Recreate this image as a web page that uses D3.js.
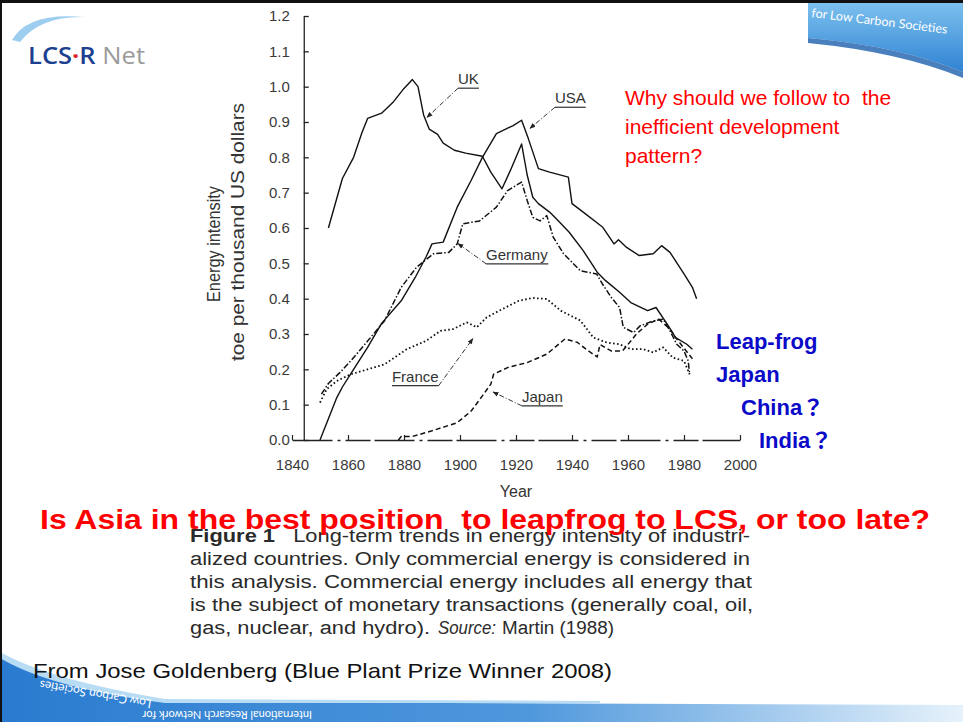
<!DOCTYPE html>
<html>
<head>
<meta charset="utf-8">
<script src="https://cdn.jsdelivr.net/npm/d3@7"></script>
<style>
  html, body { margin: 0; padding: 0; background: #fff; }
  svg { display: block; }
  .scan { font-family: "Liberation Sans", Arial, sans-serif; fill: #333; }
  text { white-space: pre; }
</style>
</head>
<body>
<div id="chart"></div>
<script>
// --- data (year, toe per thousand US$) ---
const ukData = [[1853,0.60],[1858,0.74],[1862,0.80],[1865,0.87],[1867,0.91],[1872,0.925],[1876,0.955],
  [1880,0.995],[1883,1.02],[1885,1.0],[1887,0.92],[1889,0.88],[1892,0.865],[1894,0.84],[1898,0.82],
  [1902,0.812],[1908,0.803],[1911,0.758],[1915,0.711],[1918,0.763],[1922,0.838],[1924,0.75],[1926,0.687],
  [1928,0.669],[1932,0.645],[1935,0.621],[1939,0.588],[1944,0.536],[1949,0.475],[1952,0.451],[1957,0.418],
  [1961,0.389],[1967,0.366],[1970,0.375],[1974,0.328],[1977,0.29],[1981,0.271],[1983,0.257]];

const usaData = [[1850,0.0],[1853,0.06],[1856,0.12],[1858,0.15],[1862,0.20],[1867,0.262],[1872,0.33],
  [1879,0.394],[1884,0.46],[1888,0.52],[1890,0.555],[1894,0.56],[1899,0.659],[1904,0.735],[1908,0.80],
  [1913,0.867],[1919,0.89],[1922,0.905],[1924.4,0.853],[1928,0.768],[1932,0.758],[1938.7,0.744],
  [1940,0.669],[1944,0.645],[1951,0.602],[1955,0.555],[1956.6,0.567],[1959.5,0.545],[1964,0.522],
  [1969,0.527],[1972,0.55],[1975,0.531],[1980,0.47],[1983,0.432],[1984.5,0.40]];

const germanyData = [[1850.5,0.13],[1853,0.16],[1857,0.19],[1861,0.224],[1867,0.28],[1873,0.337],
  [1879,0.432],[1884.5,0.489],[1890.5,0.527],[1896,0.531],[1899,0.555],[1901,0.612],[1907,0.62],
  [1913,0.659],[1917,0.706],[1922,0.73],[1924,0.678],[1926,0.63],[1928.6,0.62],[1931,0.635],
  [1933.3,0.574],[1937,0.527],[1943,0.479],[1948.8,0.47],[1951,0.44],[1954,0.404],[1957,0.375],
  [1958.3,0.319],[1962,0.304],[1964.3,0.323],[1969,0.337],[1972.6,0.342],[1975,0.309],[1977.4,0.271],
  [1980,0.252],[1981.5,0.224],[1982,0.186]];

const franceData = [[1850,0.106],[1852.4,0.144],[1856,0.167],[1861,0.186],[1867,0.2],[1873,0.214],
  [1881,0.257],[1888,0.281],[1893,0.309],[1897.6,0.314],[1902.4,0.333],[1906,0.319],[1909.5,0.347],
  [1914,0.366],[1921,0.394],[1926,0.402],[1931,0.399],[1936,0.366],[1943,0.338],[1947.6,0.29],
  [1952.4,0.276],[1957,0.271],[1961,0.257],[1965.5,0.257],[1969,0.248],[1972.6,0.262],[1976,0.233],
  [1980,0.224],[1981,0.205],[1982,0.186]];

const japanData = [[1878,0.0],[1879,0.01],[1883,0.01],[1890,0.026],[1899,0.049],[1904,0.082],
  [1908,0.125],[1911,0.158],[1912,0.186],[1917,0.205],[1924,0.219],[1931,0.243],[1937.5,0.286],
  [1942,0.276],[1945,0.257],[1949,0.235],[1950,0.27],[1954,0.252],[1958,0.252],[1961,0.28],
  [1963,0.30],[1967,0.328],[1971,0.342],[1975,0.314],[1977,0.29],[1980,0.26],[1983,0.23]];

const xTickValues = [1840, 1860, 1880, 1900, 1920, 1940, 1960, 1980, 2000];
const yTickValues = [0, 0.1, 0.2, 0.3, 0.4, 0.5, 0.6, 0.7, 0.8, 0.9, 1.0, 1.1, 1.2];

// label text position (year, value) and arrow tip (year, value)
const seriesLabels = [
  { name: "UK",      tx: 1899.3, ty: 1.007, ax: 1888.2, ay: 0.913, from: "start" },
  { name: "USA",     tx: 1933.9, ty: 0.953, ax: 1925.0, ay: 0.882, from: "start" },
  { name: "Germany", tx: 1909.3, ty: 0.510, ax: 1899.3, ay: 0.556, from: "start" },
  { name: "France",  tx: 1875.7, ty: 0.165, ax: 1904.6, ay: 0.287, from: "end" },
  { name: "Japan",   tx: 1922.1, ty: 0.108, ax: 1911.8, ay: 0.136, from: "start" }
];

const captionLines = [
  "alized countries. Only commercial energy is considered in",
  "this analysis. Commercial energy includes all energy that",
  "is the subject of monetary transactions (generally coal, oil,"
];
const captionWidths = [560, 562, 563];
const questionLines = ["Why should we follow to  the", "inefficient development", "pattern?"];
const leapLines = ["Leap-frog", "Japan", "China？", "India？"];

const W = 963, H = 722;
const svg = d3.select("#chart").append("svg").attr("width", W).attr("height", H);

const defs = svg.append("defs");
const g1 = defs.append("linearGradient").attr("id", "topBanner").attr("x1", 0).attr("x2", 0).attr("y1", 0).attr("y2", 1);
g1.append("stop").attr("offset", 0).attr("stop-color", "#7cc0ee");
g1.append("stop").attr("offset", 1).attr("stop-color", "#2f83d3");
const g2 = defs.append("linearGradient").attr("id", "botBanner").attr("x1", 0).attr("x2", 1).attr("y1", 0).attr("y2", 0);
g2.append("stop").attr("offset", 0).attr("stop-color", "#2a7bd0");
g2.append("stop").attr("offset", 0.55).attr("stop-color", "#4f98dc");
g2.append("stop").attr("offset", 1).attr("stop-color", "#e6f2fb");
defs.append("marker").attr("id", "arrow").attr("viewBox", "0 0 10 10").attr("refX", 9).attr("refY", 5)
  .attr("markerWidth", 6).attr("markerHeight", 6).attr("orient", "auto")
  .append("path").attr("d", "M0,1 L10,5 L0,9 Z").attr("fill", "#222");

// --- slide decoration ---
svg.append("rect").attr("width", W).attr("height", H).attr("fill", "#fff");
svg.append("path").attr("d", "M808,3 L963,3 L963,72 Q900,46 808,38 Z").attr("fill", "url(#topBanner)");
svg.append("path").attr("d", "M808,38 Q900,46 963,72 L963,78 Q900,52 808,43 Z").attr("fill", "#1d5fae").attr("opacity", 0.8);
svg.append("text").attr("transform", "translate(811,17) rotate(7)")
  .style("font-family", "Lato, 'Open Sans', sans-serif").style("font-size", "12.5px").style("fill", "#fff")
  .text("for Low Carbon Societies");

// logo
svg.append("path").attr("d", "M12,40 Q28,12 84,17 Q40,16 20,42 Z").attr("fill", "#8cc4ec").attr("opacity", 0.85);
const logo = svg.append("text").attr("x", 28).attr("y", 64).attr("textLength", 117).attr("lengthAdjust", "spacingAndGlyphs")
  .style("font-family", "'Open Sans', 'Liberation Sans', sans-serif").style("font-size", "24px");
logo.append("tspan").text("LCS").style("fill", "#1c3f8f").style("font-weight", "600");
logo.append("tspan").text("·").style("fill", "#d8262e").style("font-weight", "700");
logo.append("tspan").text("R").style("fill", "#1c3f8f").style("font-weight", "600");
logo.append("tspan").text(" Net").style("fill", "#9a9a9a");

// bottom banner
svg.append("path").attr("d", "M0,656 Q50,686 165,702 L963,705 L963,722 L0,722 Z").attr("fill", "url(#botBanner)");
svg.append("path").attr("d", "M0,652 Q50,680 165,699 L600,701 L600,703 L165,703 Q50,688 0,658 Z").attr("fill", "#b9dcf5");
svg.append("text").attr("transform", "translate(312,711) rotate(180)")
  .style("font-family", "Lato, sans-serif").style("font-size", "11px").style("fill", "#fff")
  .text("International Research Network for");
svg.append("text").attr("transform", "translate(152,700) rotate(190)")
  .style("font-family", "Lato, sans-serif").style("font-size", "12px").style("fill", "#fff")
  .text("Low Carbon Societies");

// border
svg.append("line").attr("x1", 0).attr("x2", W).attr("y1", 1.5).attr("y2", 1.5).attr("stroke", "#111").attr("stroke-width", 3);
svg.append("line").attr("x1", 1).attr("x2", 1).attr("y1", 0).attr("y2", H).attr("stroke", "#111").attr("stroke-width", 2);

// --- scales ---
const xScale = d3.scaleLinear().domain([1840, 2000]).range([292, 740]);
const yScale = d3.scaleLinear().domain([0, 1.2]).range([440, 16]);

// --- axes ---
const yAxis = svg.append("g").attr("class", "scan")
  .attr("transform", `translate(${xScale(1844.2)},0)`)
  .call(d3.axisLeft(yScale).tickValues(yTickValues).tickFormat(d3.format(".1f"))
    .tickSizeInner(-5).tickSizeOuter(0).tickPadding(14));
yAxis.selectAll("text").style("font-size", "15px").style("fill", "#3a3a3a").attr("font-family", null);
yAxis.selectAll("path, line").attr("stroke", "#222").attr("stroke-width", 1.3);

const xAxis = svg.append("g").attr("class", "scan")
  .attr("transform", `translate(0,${yScale(0)})`)
  .call(d3.axisBottom(xScale).tickValues(xTickValues).tickFormat(d3.format("d"))
    .tickSizeInner(-5).tickSizeOuter(0).tickPadding(19));
xAxis.selectAll("text").style("font-size", "15px").style("fill", "#3a3a3a");
xAxis.selectAll("line").attr("stroke", "#222").attr("stroke-width", 1.2);
xAxis.select(".domain").attr("stroke", "#222").attr("stroke-width", 1.3).attr("stroke-dasharray", "40,5,3,5,25,4");

svg.append("text").attr("class", "scan").attr("x", xScale(1920)).attr("y", 497)
  .attr("text-anchor", "middle").style("font-size", "16px").text("Year");

svg.append("text").attr("class", "scan").attr("transform", "translate(220,244) rotate(-90)")
  .attr("text-anchor", "middle").style("font-size", "18px").attr("textLength", 116).attr("lengthAdjust", "spacingAndGlyphs")
  .text("Energy intensity");
svg.append("text").attr("class", "scan").attr("transform", "translate(244,232) rotate(-90)")
  .attr("text-anchor", "middle").style("font-size", "18px").attr("textLength", 258).attr("lengthAdjust", "spacingAndGlyphs")
  .text("toe per thousand US dollars");

// --- series lines ---
const line = d3.line().x(d => xScale(d[0])).y(d => yScale(d[1])).curve(d3.curveLinear);
const series = [
  { data: ukData,      dash: null,            width: 1.4 },
  { data: usaData,     dash: null,            width: 1.4 },
  { data: germanyData, dash: "6,2,1.5,2",     width: 1.5 },
  { data: franceData,  dash: "1.6,2.4",       width: 1.8 },
  { data: japanData,   dash: "5,3",           width: 1.5 }
];
series.forEach(s => {
  svg.append("path").datum(s.data).attr("d", line)
    .attr("fill", "none").attr("stroke", "#111").attr("stroke-width", s.width)
    .attr("stroke-dasharray", s.dash).attr("stroke-linejoin", "round");
});

// --- series labels with leader arrows ---
seriesLabels.forEach(l => {
  const t = svg.append("text").attr("class", "scan").attr("x", xScale(l.tx)).attr("y", yScale(l.ty))
    .style("font-size", "15px").text(l.name);
  const bb = t.node().getBBox();
  const uy = bb.y + bb.height + 1;
  svg.append("line").attr("x1", bb.x).attr("x2", bb.x + bb.width).attr("y1", uy).attr("y2", uy)
    .attr("stroke", "#333").attr("stroke-width", 1.2);
  const sx = l.from === "start" ? bb.x : bb.x + bb.width;
  svg.append("line").attr("x1", sx).attr("y1", uy).attr("x2", xScale(l.ax)).attr("y2", yScale(l.ay))
    .attr("stroke", "#333").attr("stroke-width", 1).attr("stroke-dasharray", "5,2,1,2")
    .attr("marker-end", "url(#arrow)");
});

// --- figure caption (scanned) ---
const cap = svg.append("g").attr("class", "scan").style("font-size", "18px").style("fill", "#2a2a2a");
const first = cap.append("text").attr("x", 190).attr("y", 542).attr("textLength", 560).attr("lengthAdjust", "spacingAndGlyphs");
first.append("tspan").text("Figure 1").style("font-weight", "bold");
first.append("tspan").text("   Long-term trends in energy intensity of industri-");
captionLines.forEach((c, i) => {
  cap.append("text").attr("x", 190).attr("y", 565 + i * 23)
    .attr("textLength", captionWidths[i]).attr("lengthAdjust", "spacingAndGlyphs").text(c);
});
cap.append("text").attr("x", 190).attr("y", 634).attr("textLength", 240).attr("lengthAdjust", "spacingAndGlyphs")
  .text("gas, nuclear, and hydro).");
cap.append("text").attr("x", 438).attr("y", 634).attr("textLength", 58).attr("lengthAdjust", "spacingAndGlyphs")
  .style("font-style", "italic").text("Source:");
cap.append("text").attr("x", 502).attr("y", 634).attr("textLength", 112).attr("lengthAdjust", "spacingAndGlyphs")
  .text("Martin (1988)");

// --- slide texts ---
svg.append("text").attr("x", 40).attr("y", 529)
  .style("font-family", "'Liberation Sans', Arial, sans-serif").style("font-weight", "bold")
  .style("font-size", "27px").style("fill", "#ff0000").attr("textLength", 890).attr("lengthAdjust", "spacingAndGlyphs")
  .text("Is Asia in the best position  to leapfrog to LCS, or too late?");

questionLines.forEach((q, i) => {
  svg.append("text").attr("x", 625).attr("y", 105 + i * 29)
    .style("font-family", "'Liberation Sans', Arial, sans-serif").style("font-size", "21px")
    .style("fill", "#ff0000").text(q);
});

const leapX = [716, 716, 741, 759];
leapLines.forEach((q, i) => {
  svg.append("text").attr("x", leapX[i]).attr("y", 349 + i * 33)
    .style("font-family", "'Liberation Sans', Arial, 'Noto Sans CJK JP', sans-serif").style("font-weight", "bold")
    .style("font-size", "22px").style("fill", "#0a0ac8").text(q);
});

svg.append("text").attr("x", 33).attr("y", 678)
  .style("font-family", "'Liberation Sans', Arial, sans-serif").style("font-size", "21px").style("fill", "#111")
  .attr("textLength", 579).attr("lengthAdjust", "spacingAndGlyphs").text("From Jose Goldenberg (Blue Plant Prize Winner 2008)");
</script>
</body>
</html>
